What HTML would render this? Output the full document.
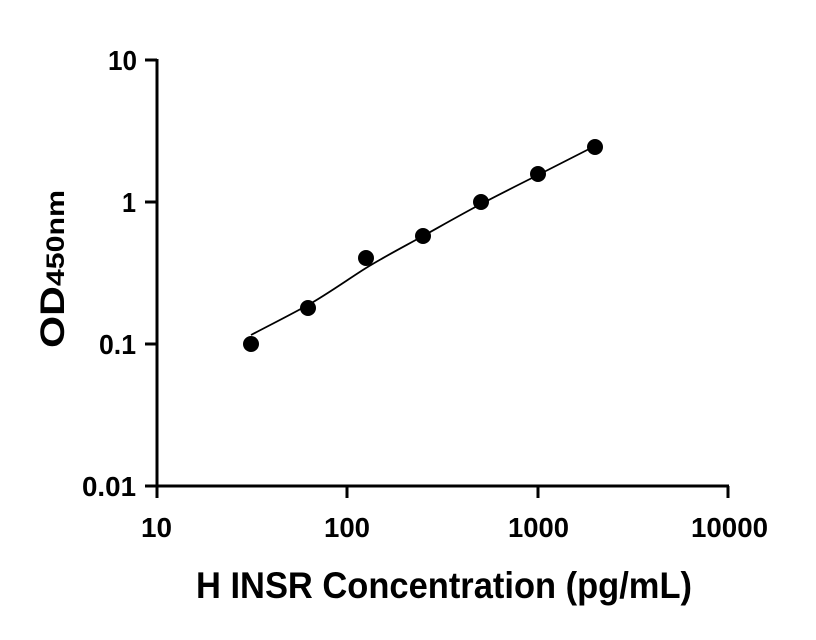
<!DOCTYPE html>
<html><head><meta charset="utf-8"><style>
html,body{margin:0;padding:0;background:#fff;}
svg{display:block;font-family:"Liberation Sans",sans-serif;font-weight:bold;}
</style></head><body>
<svg width="816" height="640" viewBox="0 0 816 640" xmlns="http://www.w3.org/2000/svg">
<g stroke="#000" stroke-width="3" fill="none">
<line x1="157" y1="59" x2="157" y2="487.5"/>
<line x1="155.5" y1="486" x2="729" y2="486"/>
<line x1="145" y1="60" x2="157" y2="60"/>
<line x1="145" y1="202" x2="157" y2="202"/>
<line x1="145" y1="344" x2="157" y2="344"/>
<line x1="145" y1="486" x2="157" y2="486"/>
<line x1="157" y1="486" x2="157" y2="498"/>
<line x1="347" y1="486" x2="347" y2="498"/>
<line x1="538" y1="486" x2="538" y2="498"/>
<line x1="728" y1="486" x2="728" y2="498"/>
</g>
<path d="M251,335 C270,325 290,315 308,305 S350,278 366,268 S405,246 423,236 S462,214 481,204 S520,184 538,175 S577,155 595,146" stroke="#000" stroke-width="1.8" fill="none"/>
<g fill="#000">
<circle cx="251" cy="344" r="8"/>
<circle cx="308" cy="308" r="8"/>
<circle cx="366" cy="258" r="8"/>
<circle cx="423" cy="236" r="8"/>
<circle cx="481" cy="202" r="8"/>
<circle cx="538" cy="174" r="8"/>
<circle cx="595" cy="147" r="8"/>
</g>
<g font-size="28" fill="#000">
<text x="108" y="70" textLength="29" lengthAdjust="spacingAndGlyphs">10</text>
<text x="122" y="212" textLength="14" lengthAdjust="spacingAndGlyphs">1</text>
<text x="99" y="354" textLength="37" lengthAdjust="spacingAndGlyphs">0.1</text>
<text x="82" y="496" textLength="54" lengthAdjust="spacingAndGlyphs">0.01</text>
<text x="141" y="537" textLength="31" lengthAdjust="spacingAndGlyphs">10</text>
<text x="324" y="537" textLength="46" lengthAdjust="spacingAndGlyphs">100</text>
<text x="508" y="537" textLength="61" lengthAdjust="spacingAndGlyphs">1000</text>
<text x="691" y="537" textLength="77" lengthAdjust="spacingAndGlyphs">10000</text>
</g>
<text x="196" y="598" font-size="37" textLength="496" lengthAdjust="spacingAndGlyphs">H INSR Concentration (pg/mL)</text>
<text transform="translate(64,348) rotate(-90)" font-size="34" textLength="158" lengthAdjust="spacingAndGlyphs">OD<tspan font-size="25">450nm</tspan></text>
</svg>
</body></html>
